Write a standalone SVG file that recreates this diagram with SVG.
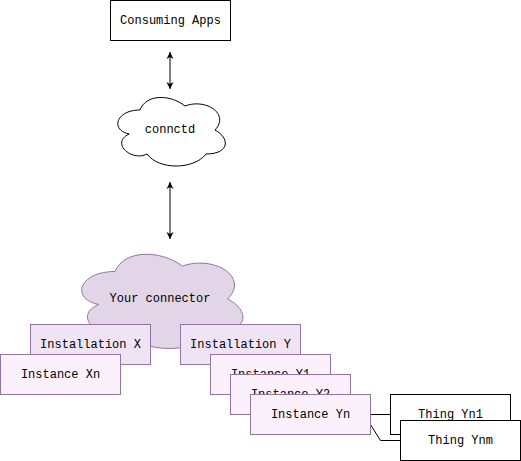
<svg xmlns="http://www.w3.org/2000/svg" width="521" height="461" viewBox="0 0 521 461">
<style>
text{font-family:"Liberation Mono","Courier New",monospace;font-size:12px;fill:#000;text-anchor:middle;dominant-baseline:central}
.plain{fill:#fff;stroke:#000;stroke-width:1}
.inst{fill:#efe3f4;stroke:#9673a6;stroke-width:1}
.ins{fill:#fbf1fd;stroke:#9673a6;stroke-width:1}
.cloudw{fill:#fff;stroke:#000;stroke-width:1}
.cloudp{fill:#e1d5e7;stroke:#9673a6;stroke-width:1}
.edge{fill:none;stroke:#000;stroke-width:1}
</style>
<defs>
<marker id="ah" markerWidth="8" markerHeight="8" refX="7" refY="4" orient="auto-start-reverse" markerUnits="userSpaceOnUse">
<path d="M0,0.5 L7,4 L0,7.5 L2,4 Z" fill="#000"/>
</marker>
</defs>
<rect width="521" height="461" fill="#fff"/>
<g id="edges">
<line class="edge" x1="170" y1="52" x2="170" y2="89" marker-start="url(#ah)" marker-end="url(#ah)"/>
<line class="edge" x1="170" y1="182" x2="170" y2="239" marker-start="url(#ah)" marker-end="url(#ah)"/>
<path class="edge" d="M370.5,414.5 L390.5,414.5"/>
<path class="edge" d="M370.5,424.5 L380.5,440.5 L400.5,440.5"/>
</g>
<g id="consuming-apps">
<rect class="plain" x="110.5" y="0.5" width="120" height="40"/>
<text x="170.5" y="20.5">Consuming Apps</text>
</g>
<g id="connctd">
<path class="cloudw" d="M140,110 C116,110 110,130 129.2,134 C110,142.8 131.6,162 147.2,154 C158,170 194,170 206,154 C230,154 230,138 215,130 C230,114 206,98 185,106 C170,94 146,94 140,110 Z"/>
<text x="170" y="130">connctd</text>
</g>
<g id="your-connector">
<path class="cloudp" d="M115,271.5 C79,271.5 70,299 98.8,304.5 C70,316.6 102.4,343 125.8,332 C142,354 196,354 214,332 C250,332 250,310 227.5,299 C250,277 214,255 182.5,266 C160,249.5 124,249.5 115,271.5 Z"/>
<text x="160" y="299">Your connector</text>
</g>
<g id="installation-x">
<rect class="inst" x="30.5" y="324.5" width="120" height="40"/>
<text x="90.5" y="344.5">Installation X</text>
</g>
<g id="instance-xn">
<rect class="ins" x="0.5" y="354.5" width="120" height="40"/>
<text x="60.5" y="374.5">Instance Xn</text>
</g>
<g id="installation-y">
<rect class="inst" x="180.5" y="324.5" width="120" height="40"/>
<text x="240.5" y="344.5">Installation Y</text>
</g>
<g id="instance-y1">
<rect class="ins" x="210.5" y="354.5" width="120" height="40"/>
<text x="270.5" y="374.5">Instance Y1</text>
</g>
<g id="instance-y2">
<rect class="ins" x="230.5" y="374.5" width="120" height="40"/>
<text x="290.5" y="394.5">Instance Y2</text>
</g>
<g id="instance-yn">
<rect class="ins" x="250.5" y="394.5" width="120" height="40"/>
<text x="310.5" y="414.5">Instance Yn</text>
</g>
<g id="thing-yn1">
<rect class="plain" x="390.5" y="394.5" width="120" height="40"/>
<text x="450.5" y="414.5">Thing Yn1</text>
</g>
<g id="thing-ynm">
<rect class="plain" x="400.5" y="420.5" width="120" height="40"/>
<text x="460.5" y="440.5">Thing Ynm</text>
</g>
</svg>
